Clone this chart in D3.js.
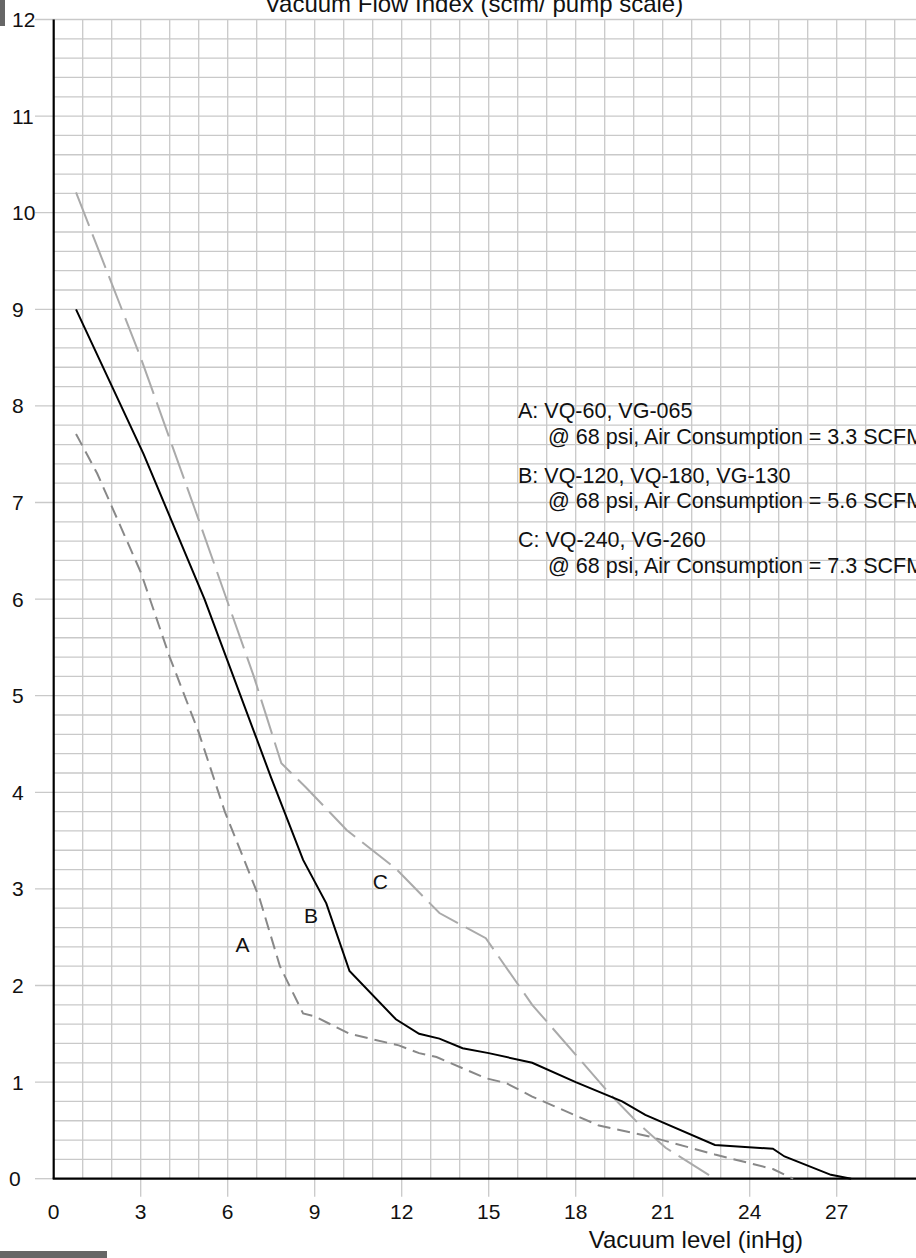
<!DOCTYPE html>
<html>
<head>
<meta charset="utf-8">
<script src="https://cdn.jsdelivr.net/npm/d3@7.9.0/dist/d3.min.js"></script>
<style>
  html, body { margin: 0; padding: 0; background: #fff; }
  svg { display: block; font-family: "Liberation Sans", Arial, sans-serif; }
</style>
</head>
<body>
<svg id="chart" width="916" height="1258"></svg>
<script>
// vacuum level (inHg) vs flow (scfm)
const seriesA = [
  [0.77, 7.71], [1.5, 7.3], [3.0, 6.28], [4.0, 5.4], [5.0, 4.62], [5.9, 3.8],
  [6.3, 3.5], [7.1, 2.9], [7.8, 2.2], [8.6, 1.71], [9.0, 1.68], [10.2, 1.5],
  [11.9, 1.38], [12.6, 1.3], [13.2, 1.26], [14.9, 1.04], [15.6, 0.99],
  [16.5, 0.85], [18.8, 0.55], [20.5, 0.44], [22.8, 0.25], [24.8, 0.1], [25.5, 0]
];
const seriesB = [
  [0.77, 9.0], [3.1, 7.5], [5.2, 6.0], [7.5, 4.15], [8.6, 3.3], [9.4, 2.85],
  [10.2, 2.15], [11.8, 1.65], [12.6, 1.5], [13.3, 1.45], [14.1, 1.35],
  [15.0, 1.3], [16.5, 1.2], [18.0, 1.0], [19.6, 0.8], [20.4, 0.66],
  [22.8, 0.35], [24.8, 0.31], [25.2, 0.23], [26.8, 0.04], [27.5, 0]
];
const seriesC = [
  [0.77, 10.21], [3.0, 8.5], [5.0, 6.82], [6.9, 5.2], [7.85, 4.3], [8.7, 4.05],
  [10.1, 3.61], [11.8, 3.21], [13.3, 2.75], [14.9, 2.49], [16.5, 1.8],
  [19.2, 0.87], [20.2, 0.56], [21.1, 0.32], [22.8, 0]
];
const curveLabels = [
  { text: 'A', x: 6.51, y: 2.35 },
  { text: 'B', x: 8.87, y: 2.65 },
  { text: 'C', x: 11.26, y: 3.0 }
];
const legendLines = [
  'A: VQ-60, VG-065', '@ 68 psi, Air Consumption = 3.3 SCFM',
  'B: VQ-120, VQ-180, VG-130', '@ 68 psi, Air Consumption = 5.6 SCFM',
  'C: VQ-240, VG-260', '@ 68 psi, Air Consumption = 7.3 SCFM'
];
const xTicks = [0, 3, 6, 9, 12, 15, 18, 21, 24, 27];
const yTicks = d3.range(0, 13);

const svg = d3.select('#chart');
const W = 916;

let x = d3.scaleLinear().domain([0, 30]).range([53.7, 53.7 + 870]);
let y = d3.scaleLinear().domain([0, 12]).range([1178.7, 19.5]);

// little dark blocks at the edges of the crop
svg.append('rect').attr('x', 0).attr('y', 0).attr('width', 5).attr('height', 26).attr('fill', '#666');
svg.append('rect').attr('x', 0).attr('y', 1251).attr('width', 107).attr('height', 7).attr('fill', '#666');

// grid
let grid = svg.append('g').attr('stroke', '#c9c9c9').attr('stroke-width', 1.3);
d3.range(1, 30).forEach((v) => {
  grid.append('line')
    .attr('x1', x(v)).attr('x2', x(v))
    .attr('y1', y(12)).attr('y2', xTicks.includes(v) ? y(0) + 18 : y(0));
});
d3.range(1, 61).forEach((i) => {
  let v = i / 5;
  grid.append('line')
    .attr('x1', i % 5 === 0 ? 35 : x(0)).attr('x2', W)
    .attr('y1', y(v)).attr('y2', y(v));
});
svg.append('line').attr('x1', 35).attr('x2', x(0)).attr('y1', y(0)).attr('y2', y(0))
  .attr('stroke', '#c9c9c9').attr('stroke-width', 1.3);

// axes
svg.append('line').attr('x1', x(0)).attr('x2', x(0)).attr('y1', y(12)).attr('y2', y(0))
  .attr('stroke', '#000').attr('stroke-width', 2.2);
svg.append('line').attr('x1', x(0) - 1).attr('x2', W).attr('y1', y(0)).attr('y2', y(0))
  .attr('stroke', '#000').attr('stroke-width', 2.2);

svg.append('g').selectAll('text').data(yTicks).join('text')
  .attr('x', (d) => (d === 0 ? 9 : 12)).attr('y', (d) => y(d)).attr('dy', '0.36em')
  .attr('font-size', 21).attr('fill', '#111')
  .text((d) => d);

svg.append('g').selectAll('text').data(xTicks).join('text')
  .attr('x', (d) => x(d)).attr('y', 1219).attr('text-anchor', 'middle')
  .attr('font-size', 21).attr('fill', '#111')
  .text((d) => d);

svg.append('text').attr('x', 474).attr('y', 12).attr('text-anchor', 'middle')
  .attr('font-size', 24).attr('fill', '#111')
  .text('Vacuum Flow Index (scfm/ pump scale)');

svg.append('text').attr('x', 803).attr('y', 1248).attr('text-anchor', 'end')
  .attr('font-size', 24).attr('fill', '#111')
  .text('Vacuum level (inHg)');

// curves
let line = d3.line().x((d) => x(d[0])).y((d) => y(d[1]));
svg.append('path').attr('d', line(seriesC)).attr('fill', 'none')
  .attr('stroke', '#aaaaaa').attr('stroke-width', 2).attr('stroke-dasharray', '36,9');
svg.append('path').attr('d', line(seriesA)).attr('fill', 'none')
  .attr('stroke', '#888888').attr('stroke-width', 2).attr('stroke-dasharray', '13,7');
svg.append('path').attr('d', line(seriesB)).attr('fill', 'none')
  .attr('stroke', '#000').attr('stroke-width', 2);

svg.append('g').selectAll('text').data(curveLabels).join('text')
  .attr('x', (d) => x(d.x)).attr('y', (d) => y(d.y)).attr('text-anchor', 'middle')
  .attr('font-size', 21).attr('fill', '#111')
  .text((d) => d.text);

// legend block
let legendTop = [418, 444, 483, 508, 547, 573];
svg.append('g').selectAll('text').data(legendLines).join('text')
  .attr('x', (d, i) => (i % 2 ? 548 : 518)).attr('y', (d, i) => legendTop[i])
  .attr('font-size', 21.5).attr('fill', '#111')
  .text((d) => d);
</script>
</body>
</html>
